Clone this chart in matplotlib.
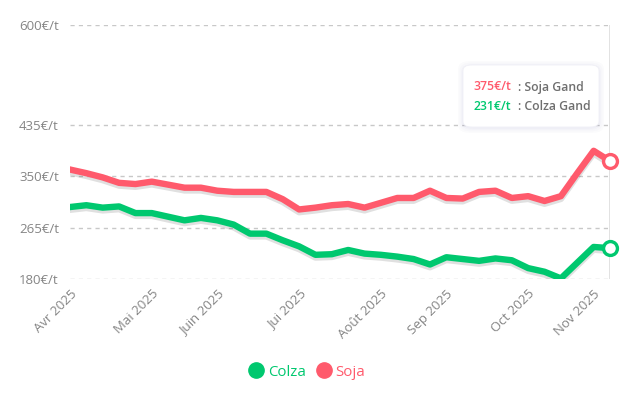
import matplotlib
matplotlib.use("Agg")
import matplotlib.pyplot as plt
import matplotlib.patheffects as pe
from matplotlib.lines import Line2D
from matplotlib.patches import FancyBboxPatch

# weekly prices, Apr -> Nov 2025 (EUR/t)
colza = [299, 302, 298, 300, 289, 289, 283, 277, 281, 277, 270, 255, 255, 244, 234, 220, 221,
         228, 222, 220, 217, 213, 204, 216, 213, 210, 214, 211, 198, 192, 181, 207, 233, 231]
soja = [361, 355, 348, 339, 337, 341, 336, 331, 331, 326, 324, 324, 324, 312, 295, 298, 302,
        304, 298, 306, 314, 314, 326, 314, 313, 324, 326, 314, 317, 309, 317, 355, 392, 375]
month_idx = [0, 5, 9, 14, 19, 23, 28, 32]
month_labels = ["Avr 2025", "Mai 2025", "Juin 2025", "Jui 2025", "Août 2025", "Sep 2025", "Oct 2025", "Nov 2025"]
y_ticks = [180, 265, 350, 435, 600]

GREEN = "#00C86F"
RED = "#FF5A6C"
GREY = "#858585"

plt.rcParams["font.family"] = ["Open Sans", "DejaVu Sans"]

fig = plt.figure(figsize=(6.28, 3.95), dpi=100)
ax = fig.add_axes([70 / 628, 116 / 395, 540 / 628, 254 / 395])

x = list(range(len(colza)))
shadow = [pe.SimpleLineShadow(offset=(0, -2), alpha=0.12, shadow_color="black"), pe.Normal()]
ax.plot(x, soja, color=RED, lw=4.6, solid_joinstyle="round", path_effects=shadow, zorder=3)
ax.plot(x, colza, color=GREEN, lw=4.6, solid_joinstyle="round", path_effects=shadow, zorder=3)

# hover line + end markers
ax.axvline(x[-1], color="#dddddd", lw=1.2, zorder=1)
ax.plot(x[-1], soja[-1], "o", ms=10, mfc="white", mec=RED, mew=2.4, clip_on=False, zorder=5)
ax.plot(x[-1], colza[-1], "o", ms=10, mfc="white", mec=GREEN, mew=2.4, clip_on=False, zorder=5)

ax.set_xlim(0, len(colza) - 1)
ax.set_ylim(180, 600)
ax.set_yticks(y_ticks)
ax.set_yticklabels([f"{v}€/t" for v in y_ticks])
ax.set_xticks(month_idx)
ax.set_xticklabels(month_labels, rotation=45, ha="right", rotation_mode="anchor")
ax.tick_params(axis="both", length=0, colors=GREY, labelsize=9.5)
ax.tick_params(axis="y", pad=8)
ax.tick_params(axis="x", pad=6)
for v in y_ticks:
    ax.axhline(v, color="#c8c8c8", lw=1, ls=(0, (3, 3)), zorder=0)
for s in ax.spines.values():
    s.set_visible(False)

# tooltip with a soft shadow
bx, by, bw, bh = 463, 268, 136, 62
for grow in (5, 3.5, 2, 1):
    fig.patches.append(FancyBboxPatch(((bx - grow) / 628, (by - grow - 1) / 395), (bw + 2 * grow) / 628,
                                      (bh + 2 * grow) / 395, transform=fig.transFigure,
                                      boxstyle="round,pad=0,rounding_size=0.02", fc="#6a6aa8",
                                      ec="none", alpha=0.022, zorder=9))
fig.patches.append(FancyBboxPatch((bx / 628, by / 395), bw / 628, bh / 395, transform=fig.transFigure,
                                  boxstyle="round,pad=0,rounding_size=0.014", fc="white",
                                  ec="#f0f0f6", lw=0.6, zorder=10))
fig.text(473 / 628, 308 / 395, f"{soja[-1]}€/t", color=RED, fontsize=8.8, weight="semibold", va="center", zorder=11)
fig.text(518 / 628, 308 / 395, ": Soja Gand", color="#6f6f6f", fontsize=8.8, weight="semibold", va="center", zorder=11)
fig.text(473 / 628, 288 / 395, f"{colza[-1]}€/t", color=GREEN, fontsize=8.8, weight="semibold", va="center", zorder=11)
fig.text(518 / 628, 288 / 395, ": Colza Gand", color="#6f6f6f", fontsize=8.8, weight="semibold", va="center", zorder=11)

handles = [Line2D([], [], ls="none", marker="o", ms=11, color=GREEN),
           Line2D([], [], ls="none", marker="o", ms=11, color=RED)]
fig.legend(handles, ["Colza", "Soja"], loc="center", bbox_to_anchor=(306 / 628, 23 / 395), ncol=2,
           frameon=False, fontsize=10.8, labelcolor=[GREEN, RED], handletextpad=0.15, columnspacing=0.6,
           handlelength=1.2)

fig.savefig("out.png", dpi=100)
